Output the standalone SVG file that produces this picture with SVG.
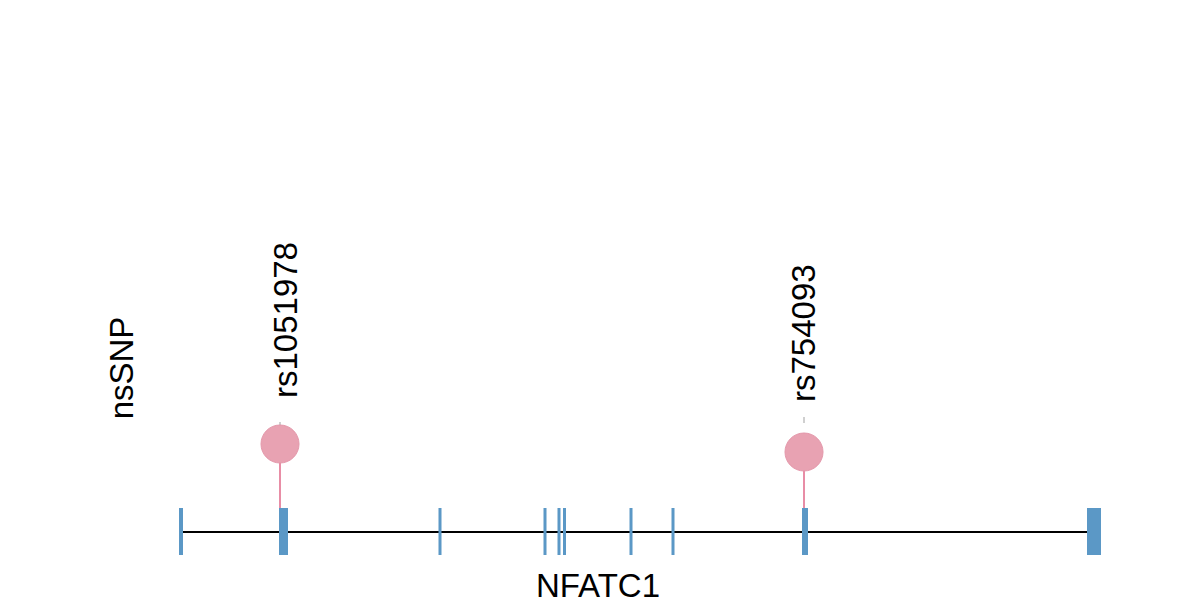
<svg xmlns="http://www.w3.org/2000/svg" width="1200" height="600" viewBox="0 0 1200 600">
<style>
.exon{fill:#5b98c6}
.lab{font-family:"Liberation Sans",Arial,sans-serif;font-size:33px;fill:#000}
.stem{stroke:#e88da6;stroke-width:2}
.dash{stroke:#c0c0c0;stroke-width:1.5}
.snp{fill:#e8a2b2;stroke:#e497aa;stroke-width:1}
</style>
<rect width="1200" height="600" fill="#fff"/>
<g id="connectors">
<line x1="181" y1="532" x2="1088" y2="532" stroke="#000" stroke-width="2"/>
<line class="stem" x1="280" y1="444" x2="280" y2="532"/>
<line class="stem" x1="804" y1="452" x2="804" y2="532"/>
<line class="dash" x1="280" y1="422" x2="280" y2="427"/>
<line class="dash" x1="804" y1="417" x2="804" y2="423"/>
</g>
<g id="gene-NFATC1">
<rect class="exon" x="179" y="508" width="4" height="47"/>
<rect class="exon" x="279" y="508" width="9" height="47"/>
<rect class="exon" x="438.5" y="508" width="3" height="47"/>
<rect class="exon" x="543.5" y="508" width="3" height="47"/>
<rect class="exon" x="557.5" y="508" width="3" height="47"/>
<rect class="exon" x="563" y="508" width="3" height="47"/>
<rect class="exon" x="629.5" y="508" width="3" height="47"/>
<rect class="exon" x="671.5" y="508" width="3" height="47"/>
<rect class="exon" x="802" y="508" width="6" height="47"/>
<rect class="exon" x="1087" y="508" width="14" height="47"/>
<text class="lab" x="598" y="597" text-anchor="middle">NFATC1</text>
</g>
<g id="snp-rs1051978">
<circle class="snp" cx="280" cy="444" r="19"/>
<text class="lab" transform="translate(297,398) rotate(-90)">rs1051978</text>
</g>
<g id="snp-rs754093">
<circle class="snp" cx="804" cy="452" r="19"/>
<text class="lab" transform="translate(815,402) rotate(-90)">rs754093</text>
</g>
<g id="track-label">
<text class="lab" transform="translate(133,368) rotate(-90)" text-anchor="middle">nsSNP</text>
</g>
</svg>
